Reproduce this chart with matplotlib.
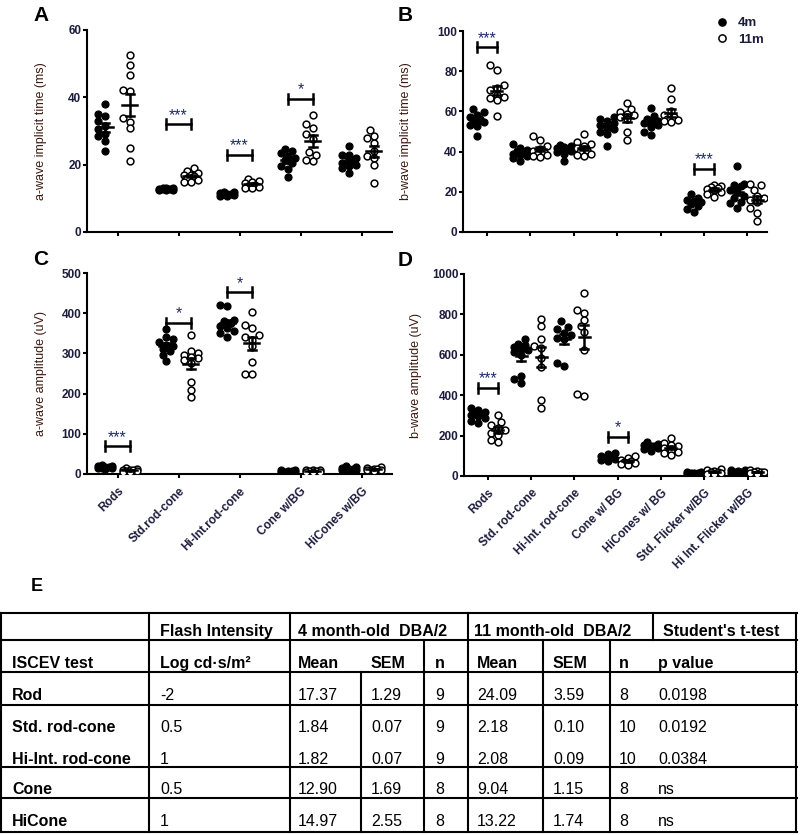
import numpy as np
import matplotlib
matplotlib.use('Agg')
import matplotlib.pyplot as plt
from matplotlib.lines import Line2D

W, H = 800, 835

# ---- data ----
cats_short = ['Rods', 'Std.rod-cone', 'Hi-Int.rod-cone', 'Cone w/BG', 'HiCones w/BG']
cats_long = ['Rods', 'Std. rod-cone', 'Hi-Int. rod-cone', 'Cone w/ BG', 'HiCones w/ BG',
             'Std. Flicker w/BG', 'Hi Int. Flicker w/BG']

# A: a-wave implicit time (ms)
a_time_4m = [
    [38, 35, 34.5, 33, 31.5, 30.5, 29, 28.5, 27, 24],
    [13.2, 13.1, 13.0, 12.9, 12.8, 12.8, 12.7, 12.6, 12.5, 12.4],
    [12.0, 11.8, 11.5, 11.4, 11.3, 11.2, 11.0, 10.8, 10.6],
    [24.8, 24.2, 23.5, 22.5, 22.0, 21.5, 20.5, 19.5, 18.8, 16.2],
    [25.4, 23.0, 22.8, 22.0, 21.5, 20.5, 20.0, 19.5, 19.0, 17.5],
]
a_time_11m = [
    [52.6, 49.6, 46.6, 42.2, 42.0, 33.8, 32.8, 30.8, 24.9, 21.2],
    [19.0, 18.2, 17.5, 17.0, 16.8, 16.5, 16.0, 15.5, 15.0, 14.8],
    [15.8, 15.2, 14.8, 14.5, 14.0, 13.8, 13.5, 13.2, 13.0],
    [34.8, 32.0, 31.0, 29.0, 27.5, 23.8, 22.8, 21.5, 21.0],
    [30.3, 28.5, 28.0, 26.5, 24.0, 22.5, 22.0, 20.0, 14.5],
]

# B: b-wave implicit time (ms)
b_time_4m = [
    [61, 59.5, 58, 57, 56, 55.5, 54.5, 53, 52.5, 48],
    [44, 42, 41, 40.5, 40, 39, 38.5, 38, 37, 35.5],
    [43.5, 43, 42.5, 42, 41.5, 41, 40.5, 40, 39, 35.5],
    [57, 56, 55, 54, 53, 52, 51, 50, 49, 43],
    [61.5, 57.5, 56, 55, 54.5, 54, 53, 52, 50, 48.5],
    [19, 17, 16, 15.5, 15, 14, 13, 11.5, 10],
    [33, 24, 23.5, 23, 21, 20, 18, 17, 15, 14.5, 12],
]
b_time_11m = [
    [83, 80.5, 73, 71.5, 70.5, 68, 67, 66.5, 65.5, 57.5],
    [48, 46, 43, 41.5, 40.5, 40, 39, 38.5, 38, 37.5],
    [49, 45, 44, 43, 42, 41, 40, 39, 38.5, 38],
    [64, 61, 59.5, 58.5, 58, 57, 56, 50, 46],
    [71.5, 66, 60, 58, 57, 56, 55.5, 55, 54.5],
    [23.5, 23, 22.5, 22, 21.5, 21, 20, 19, 17.5],
    [24, 23.5, 21, 18, 17, 16, 15, 12, 9.5, 5.5],
]

# C: a-wave amplitude (uV)
a_amp_4m = [
    [22, 20, 19, 18, 17, 16, 15, 14, 13],
    [360, 340, 335, 328, 322, 318, 312, 305, 295, 280],
    [420, 418, 384, 380, 376, 368, 362, 355, 350, 342],
    [10, 9, 8, 7, 6, 5, 5, 4],
    [20, 17, 15, 13, 12, 11, 10, 9, 8],
]
a_amp_11m = [
    [14, 12, 11, 10, 9, 8, 7, 6, 5],
    [346, 306, 300, 296, 292, 288, 284, 276, 230, 210, 191],
    [404, 370, 364, 345, 340, 334, 318, 278, 249, 248],
    [11, 10, 9, 8, 7, 6, 5, 4],
    [18, 15, 13, 12, 11, 10, 9, 8],
]

# D: b-wave amplitude (uV)
b_amp_4m = [
    [335, 325, 318, 312, 305, 300, 295, 285, 270, 262],
    [680, 655, 648, 640, 632, 625, 612, 600, 495, 480, 462],
    [765, 740, 728, 710, 698, 682, 676, 560, 545],
    [115, 108, 100, 95, 90, 85, 80, 75],
    [170, 160, 155, 150, 148, 145, 140, 135, 125],
    [20, 18, 16, 15, 14, 13, 12, 10],
    [32, 28, 25, 22, 20, 18, 15, 12],
]
b_amp_11m = [
    [300, 268, 252, 240, 228, 212, 204, 180, 168],
    [777, 742, 680, 645, 632, 582, 540, 375, 338],
    [904, 820, 805, 772, 742, 715, 625, 405, 395],
    [100, 90, 80, 75, 70, 65, 60, 55],
    [190, 165, 155, 148, 140, 130, 120, 112, 105],
    [35, 28, 25, 20, 18, 15, 12, 10],
    [28, 25, 22, 20, 18, 15, 12],
]

# significance marks: (category index, bar height, stars)
sig_a = [(1, 32, '***'), (2, 23, '***'), (3, 39.5, '*')]
sig_b = [(0, 92, '***'), (5, 31.5, '***')]
sig_c = [(0, 69, '***'), (1, 376, '*'), (2, 452, '*')]
sig_d = [(0, 437, '***'), (3, 195, '*')]

# E: table
tbl_head1 = ['Flash Intensity', '4 month-old  DBA/2', '11 month-old  DBA/2', "Student's t-test"]
tbl_head2 = ['ISCEV test', 'Log cd·s/m²', 'Mean', 'SEM', 'n', 'Mean', 'SEM', 'n', 'p value']
tests = ['Rod', 'Std. rod-cone', 'Hi-Int. rod-cone', 'Cone', 'HiCone']
intensity = ['-2', '0.5', '1', '0.5', '1']
mean_4m = ['17.37', '1.84', '1.82', '12.90', '14.97']
sem_4m = ['1.29', '0.07', '0.07', '1.69', '2.55']
n_4m = ['9', '9', '9', '8', '8']
mean_11m = ['24.09', '2.18', '2.08', '9.04', '13.22']
sem_11m = ['3.59', '0.10', '0.09', '1.15', '1.74']
n_11m = ['8', '10', '10', '8', '8']
p_values = ['0.0198', '0.0192', '0.0384', 'ns', 'ns']

TICK_C = '#1c1c3c'
LAB_C = '#3c1a10'
STAR_C = '#1f2a6b'
plt.rcParams['font.family'] = ['Liberation Sans', 'DejaVu Sans']

fig = plt.figure(figsize=(W / 100, H / 100), dpi=100)


def px_axes(l, t, r, b):
    return fig.add_axes([l / W, 1 - b / H, (r - l) / W, (b - t) / H])


def swarm(vals, ppu, d, maxw):
    # beeswarm offsets in pixels
    ys = np.asarray(vals, float) * ppu
    k = int(maxw / (d / 2))
    cands = sorted(np.arange(-k, k + 1) * d / 2, key=abs)
    offs = np.zeros(len(ys))
    placed = []
    for i in np.argsort(ys):
        best, bestd = 0.0, -1
        for c in cands:
            md = min([np.hypot(c - px, ys[i] - py) for px, py in placed], default=1e9)
            if md >= d * 0.9:
                best = c
                break
            if md > bestd:
                best, bestd = c, md
        offs[i] = best
        placed.append((best, ys[i]))
    return offs


def panel(box, xlim, ymax, ystep, g4, g11, sigs, ylabel, labcoord, xlabels, goff, maxw, mhw):
    ax = px_axes(*box)
    l, t, r, b = box
    ppc = (r - l) / (xlim[1] - xlim[0])
    ppu = (b - t) / ymax
    d = 7
    for i, (v4, v11) in enumerate(zip(g4, g11)):
        for vals, sgn, filled in ((v4, -1, True), (v11, 1, False)):
            cx = i + sgn * goff
            xs = cx + swarm(vals, ppu, d, maxw) / ppc
            if filled:
                ax.scatter(xs, vals, s=26, c='black', edgecolors='black', linewidths=0.8, zorder=3)
            else:
                ax.scatter(xs, vals, s=24, facecolors='white', edgecolors='black', linewidths=1.1, zorder=3)
            m = np.mean(vals)
            se = np.std(vals, ddof=1) / np.sqrt(len(vals))
            ax.plot([cx - mhw / ppc, cx + mhw / ppc], [m, m], color='black', lw=1.8, zorder=4)
            ax.plot([cx, cx], [m - se, m + se], color='black', lw=1.8, zorder=4)
            for yy in (m - se, m + se):
                ax.plot([cx - 4 / ppc, cx + 4 / ppc], [yy, yy], color='black', lw=1.8, zorder=4)
    for ci, yb, st in sigs:
        x0, x1 = ci - goff, ci + goff
        cap = 5 / ppu
        ax.plot([x0, x1], [yb, yb], color='black', lw=1.8)
        ax.plot([x0, x0], [yb - cap, yb + cap], color='black', lw=1.8)
        ax.plot([x1, x1], [yb - cap, yb + cap], color='black', lw=1.8)
        ax.annotate(st, (ci, yb), xytext=(0, 1), textcoords='offset points', ha='center',
                    va='bottom', fontsize=11.5, color=STAR_C)
    ax.set_xlim(*xlim)
    ax.set_ylim(0, ymax)
    ax.set_yticks(np.arange(0, ymax + 1, ystep))
    ax.set_xticks(range(len(g4)))
    for s in ('top', 'right'):
        ax.spines[s].set_visible(False)
    for s in ('left', 'bottom'):
        ax.spines[s].set_linewidth(1.5)
    ax.tick_params(width=1.5, length=3, colors='black', labelcolor=TICK_C, labelsize=8.5, pad=1)
    for lab in ax.get_yticklabels():
        lab.set_fontweight('bold')
    if xlabels:
        ax.set_xticklabels(xlabels, rotation=45, ha='right', rotation_mode='anchor',
                           fontsize=8.5, fontweight='bold')
        ax.tick_params(axis='x', pad=5)
    else:
        ax.set_xticklabels([])
    ax.set_ylabel(ylabel, fontsize=9, color=LAB_C)
    ax.yaxis.set_label_coords(labcoord, 0.5)
    return ax


panel((87, 30, 392, 232), (-0.5, 4.5), 60, 20, a_time_4m, a_time_11m, sig_a,
      'a-wave implicit time (ms)', -0.131, None, 0.2, 9, 7.5)
axb = panel((463, 31, 767, 232), (-0.55, 6.45), 100, 20, b_time_4m, b_time_11m, sig_b,
            'b-wave implicit time (ms)', -0.168, None, 0.23, 8, 5.5)
panel((87, 273, 392, 474), (-0.5, 4.5), 500, 100, a_amp_4m, a_amp_11m, sig_c,
      'a-wave amplitude (uV)', -0.131, cats_short, 0.2, 9, 7.5)
panel((464, 274, 767, 476), (-0.55, 6.45), 1000, 200, b_amp_4m, b_amp_11m, sig_d,
      'b-wave amplitude (uV)', -0.139, cats_long, 0.23, 8, 5.5)

handles = [Line2D([], [], ls='none', marker='o', ms=5.2, mfc='black', mec='black'),
           Line2D([], [], ls='none', marker='o', ms=5.2, mfc='white', mec='black', mew=1.1)]
axb.legend(handles, ['4m', '11m'], loc='upper left', bbox_to_anchor=(714 / W, 1 - 17 / H),
           bbox_transform=fig.transFigure, frameon=False, borderaxespad=0, borderpad=0,
           handletextpad=0.6, labelspacing=0.35, handlelength=1.2, prop={'size': 9.5, 'weight': 'bold'},
           labelcolor=TICK_C)

# panel letters
for txt, x, y in (('A', 33, 21), ('B', 398, 21), ('C', 33, 265), ('D', 398, 266), ('E', 31, 591)):
    fig.text(x / W, 1 - y / H, txt, fontsize=15 if txt != 'E' else 13, fontweight='bold', va='baseline')

# ---- table ----
tx = fig.add_axes([0, 0, 1, 1])
tx.set_xlim(0, W)
tx.set_ylim(H, 0)
tx.axis('off')
hlines = [613, 640, 672, 705, 767, 798, 832]
for y in hlines:
    tx.plot([0, 797], [y, y], color='black', lw=1.5)
vsegs = [(1, 613, 832), (149, 613, 832), (290, 613, 832), (468, 613, 832), (796, 613, 832),
         (653, 613, 640), (361, 672, 832), (424, 640, 832), (543, 640, 832), (610, 640, 832)]
for x, y0, y1 in vsegs:
    tx.plot([x, x], [y0, y1], color='black', lw=1.5)

fs = 11.5
for x, s in zip([160, 298, 474, 663], tbl_head1):
    tx.text(x, 636, s, fontsize=fs, fontweight='bold', va='baseline')
for x, s in zip([12, 160, 298, 371, 435, 477, 553, 619, 658], tbl_head2):
    tx.text(x, 668, s, fontsize=fs, fontweight='bold', va='baseline')
row_y = [700, 732, 764, 794, 826]
cols = [intensity, mean_4m, sem_4m, n_4m, mean_11m, sem_11m, n_11m, p_values]
col_x = [160, 298, 371, 435, 477, 553, 619, 658]
for r, y in enumerate(row_y):
    tx.text(12, y, tests[r], fontsize=fs, fontweight='bold', va='baseline')
    for x, col in zip(col_x, cols):
        tx.text(x, y, col[r], fontsize=fs, va='baseline')

fig.savefig('out.png', dpi=100)
